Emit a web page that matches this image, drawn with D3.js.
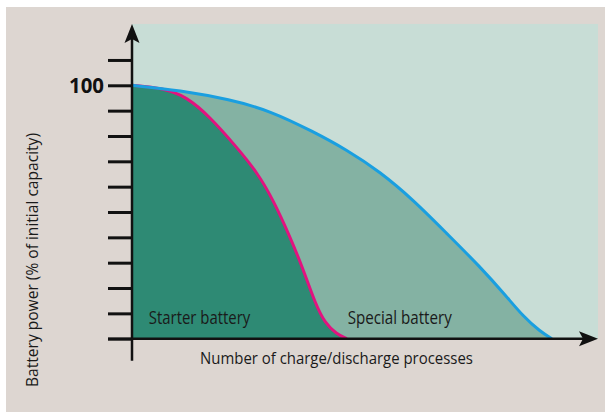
<!DOCTYPE html>
<html>
<head>
<meta charset="utf-8">
<script src="https://cdn.jsdelivr.net/npm/d3@7"></script>
<style>
  html, body { margin: 0; padding: 0; background: #ffffff; }
  svg { display: block; }
  .lbl { font-family: "Open Sans", "Noto Sans", sans-serif; fill: #1a1a1a; }
</style>
</head>
<body>
<svg id="chart" width="605" height="412"></svg>
<script>
// Capacity curves: charge/discharge cycles (relative units) vs. % of initial capacity
const specialCycles = [0, 103, 210, 296, 389, 461, 532, 604, 675, 747, 804, 840, 876, 901];
const specialPower  = [100, 98.0, 94.4, 90.0, 81.7, 74.5, 65.9, 54.7, 41.6, 28.4, 16.6, 8.7, 2.8, 0];
const starterCycles = [0, 67, 117, 167, 225, 268, 303, 339, 368, 393, 414, 439, 461];
const starterPower  = [100, 98.9, 95.5, 87.6, 75.5, 65.8, 54.8, 40.3, 27.1, 14.0, 6.1, 1.9, 0];
const yTicks = [0, 10, 20, 30, 40, 50, 60, 70, 80, 90, 100, 110];
const yLabelled = [100];
const seriesNames = ["Starter battery", "Special battery"];
const xTitle = "Number of charge/discharge processes";
const yTitle = "Battery power (% of initial capacity)";

const svg = d3.select("#chart");
const W = 605, H = 412;

const x = d3.scaleLinear().domain([0, 1000]).range([132, 598]);
const y = d3.scaleLinear().domain([0, 100]).range([338.7, 85.3]);
const yTop = 124.2;

const special = specialCycles.map((c, i) => ({ c, p: specialPower[i] }));
const starter = starterCycles.map((c, i) => ({ c, p: starterPower[i] }));

// page background
svg.append("rect").attr("x", 6).attr("y", 7).attr("width", W - 6).attr("height", H - 7).attr("fill", "#ddd6d1");

// plot background
svg.append("rect")
  .attr("x", x(0)).attr("y", y(yTop))
  .attr("width", x(1000) - x(0)).attr("height", y(0) - y(yTop))
  .attr("fill", "#c8ddd6");

const curve = d3.curveBasis;
const area = d3.area().x(d => x(d.c)).y0(y(0)).y1(d => y(d.p)).curve(curve);
const line = d3.line().x(d => x(d.c)).y(d => y(d.p)).curve(curve);

svg.append("path").datum(special).attr("d", area).attr("fill", "#84b2a3");
svg.append("path").datum(starter).attr("d", area).attr("fill", "#2e8a74");
svg.append("path").datum(starter).attr("d", line).attr("fill", "none")
  .attr("stroke", "#e2127f").attr("stroke-width", 3);
svg.append("path").datum(special).attr("d", line).attr("fill", "none")
  .attr("stroke", "#1a9fe0").attr("stroke-width", 3);

// condensed text helper: squeeze glyphs to the given width
function label(xp, yp, txt, size, width, anchor) {
  return svg.append("text").attr("class", "lbl")
    .attr("x", xp).attr("y", yp)
    .attr("font-size", size)
    .attr("text-anchor", anchor || "start")
    .attr("textLength", width).attr("lengthAdjust", "spacingAndGlyphs")
    .text(txt);
}

// series labels
label(x(36), 323.5, seriesNames[0], 18, 101.5);
label(x(463), 323.5, seriesNames[1], 18, 104);

// y axis ticks
const yAxis = d3.axisLeft(y).tickValues(yTicks).tickSize(24).tickSizeOuter(0).tickPadding(4)
  .tickFormat(d => yLabelled.includes(d) ? String(d) : "");
const gy = svg.append("g").attr("transform", `translate(${x(0)},0)`).call(yAxis);
gy.select(".domain").remove();
gy.selectAll(".tick line").attr("stroke", "#111").attr("stroke-width", 3);
gy.selectAll(".tick text")
  .attr("font-family", "'Open Sans', 'DejaVu Sans', sans-serif")
  .attr("font-weight", "bold").attr("font-size", 21).attr("fill", "#111")
  .attr("textLength", 35).attr("lengthAdjust", "spacingAndGlyphs");

// axis lines
const ink = "#111";
svg.append("line").attr("x1", x(0)).attr("x2", x(0)).attr("y1", y(0) + 22).attr("y2", y(yTop) + 8)
  .attr("stroke", ink).attr("stroke-width", 2.5);
svg.append("line").attr("x1", x(0) - 24).attr("x2", x(1000) - 8).attr("y1", y(0)).attr("y2", y(0))
  .attr("stroke", ink).attr("stroke-width", 2.5);

// arrowheads
const ay = y(yTop), ax0 = x(0);
svg.append("path")
  .attr("d", `M${ax0},${ay} L${ax0 + 7.5},${ay + 19} L${ax0},${ay + 15} L${ax0 - 7.5},${ay + 19} Z`)
  .attr("fill", ink);
const bx = x(1000), by = y(0);
svg.append("path")
  .attr("d", `M${bx},${by} L${bx - 19},${by - 7.5} L${bx - 15},${by} L${bx - 19},${by + 7.5} Z`)
  .attr("fill", ink);

// axis titles
label(200, 363.5, xTitle, 16.5, 273);
svg.append("g").attr("transform", `translate(37.5,387) rotate(-90)`)
  .append("text").attr("class", "lbl")
  .attr("x", 0).attr("y", 0)
  .attr("font-size", 15.5)
  .attr("textLength", 254).attr("lengthAdjust", "spacingAndGlyphs")
  .text(yTitle);
</script>
</body>
</html>
